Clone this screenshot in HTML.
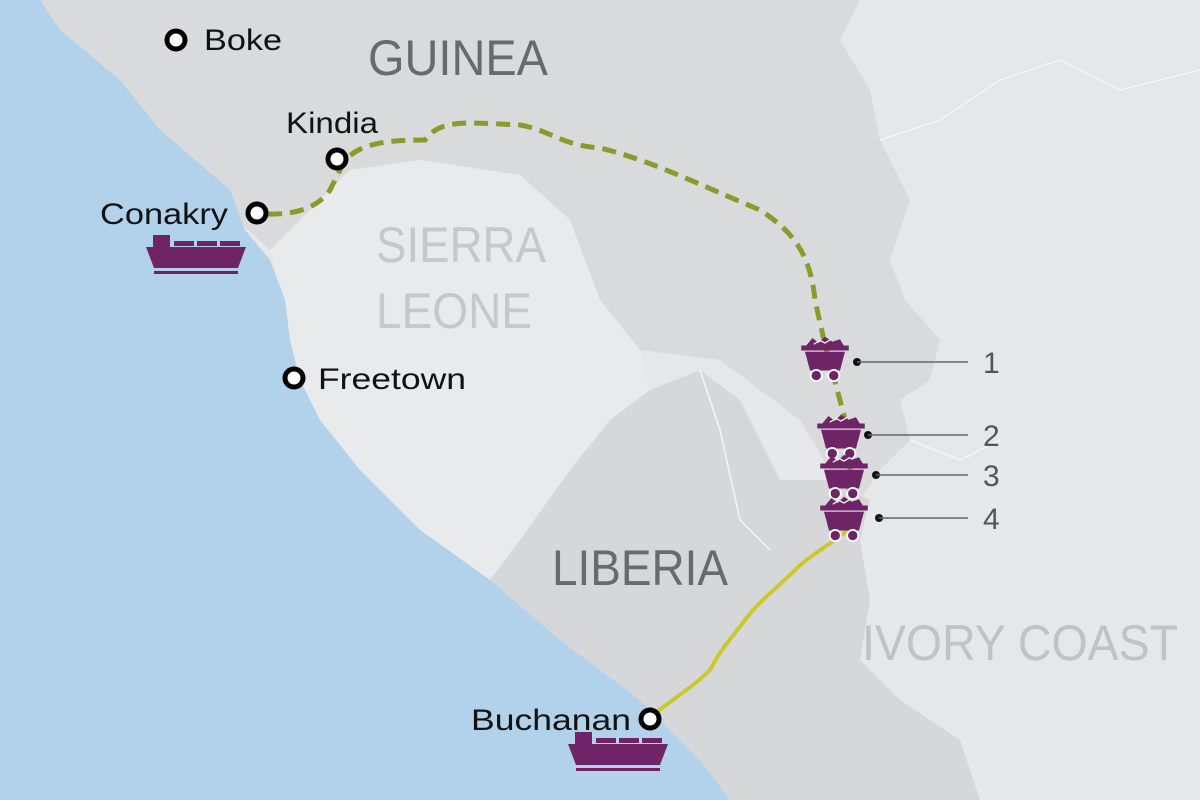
<!DOCTYPE html>
<html><head><style>body{margin:0}svg{display:block}</style></head><body>
<svg width="1200" height="800" viewBox="0 0 1200 800" xmlns="http://www.w3.org/2000/svg" font-family="Liberation Sans, sans-serif">
<rect width="1200" height="800" fill="#e5e7e9"/>
<path d="M0,0 L860,0 L840,40 L870,90 L880,140 L910,200 L890,260 L905,300 L940,340 L930,380 L900,400 L910,440 L880,470 L860,500 L830,470 L800,420 L760,390 L720,360 L640,350 L600,300 L570,220 L520,175 L420,160 L350,170 L270,250 Z" fill="#d9dadb"/>
<path d="M270,250 L350,170 L420,160 L520,175 L570,220 L600,300 L640,350 L650,390 L610,420 L570,470 L520,540 L490,580 L420,530 L360,470 L320,420 L300,380 L290,340 L285,300 Z" fill="#e9eaeb"/>
<path d="M490,580 L520,540 L570,470 L610,420 L650,390 L700,370 L740,400 L760,440 L780,480 L830,480 L870,500 L860,540 L870,600 L860,660 L900,700 L960,740 L980,800 L730,800 L700,760 L640,700 L560,640 Z" fill="#d6d7d8"/>
<path d="M0,0 L40,0 L60,30 L120,80 L160,130 L230,190 L245,230 L270,260 L285,300 L290,340 L300,380 L320,420 L360,470 L420,530 L490,580 L560,640 L640,700 L700,760 L730,800 L0,800 Z" fill="#b1d2ea"/>
<g fill="none" stroke="#f4f5f6" stroke-width="1.5">
<path d="M880,140 L940,120 L1000,80 L1060,60 L1120,90 L1200,70"/>
<path d="M910,440 L960,460 L1000,440"/>
<path d="M700,370 L720,430 L740,520 L770,550"/>
</g>
<path d="M268,214 C300,215 320,205 330,190 L345,160 C360,145 380,140 425,140 C440,120 460,122 520,125 C550,130 560,145 600,148 C650,160 700,185 760,210 C790,230 810,250 815,300 L825,345 L848,430 L850,470 L848,510" fill="none" stroke="#8c9a2c" stroke-width="5" stroke-dasharray="14,8"/>
<path d="M848,530 C830,545 810,555 795,570 C775,590 760,600 745,620 C730,640 720,650 710,670 C690,690 670,700 650,718" fill="none" stroke="#c9c92e" stroke-width="4"/>
<g fill="#fff" stroke="#000" stroke-width="5">
<circle cx="176" cy="40" r="9"/><circle cx="337" cy="159" r="9"/><circle cx="257" cy="213" r="9"/><circle cx="294" cy="378" r="9"/><circle cx="650" cy="719" r="9"/>
</g>
<g font-size="30" fill="#111">
<text x="204" y="50" textLength="78" lengthAdjust="spacingAndGlyphs">Boke</text>
<text x="286" y="133" textLength="92" lengthAdjust="spacingAndGlyphs">Kindia</text>
<text x="100" y="224" textLength="128" lengthAdjust="spacingAndGlyphs">Conakry</text>
<text x="318" y="389" textLength="148" lengthAdjust="spacingAndGlyphs">Freetown</text>
<text x="471" y="730" textLength="160" lengthAdjust="spacingAndGlyphs">Buchanan</text>
</g>
<g font-size="50">
<text x="368" y="75" fill="#6a6a6a" textLength="180" lengthAdjust="spacingAndGlyphs">GUINEA</text>
<text x="376" y="262" fill="#c6c7c9" textLength="170" lengthAdjust="spacingAndGlyphs">SIERRA</text>
<text x="376" y="328" fill="#c6c7c9" textLength="156" lengthAdjust="spacingAndGlyphs">LEONE</text>
<text x="552" y="585" fill="#6a6a6a" textLength="176" lengthAdjust="spacingAndGlyphs">LIBERIA</text>
<text x="862" y="660" fill="#c0c2c4" textLength="316" lengthAdjust="spacingAndGlyphs">IVORY COAST</text>
</g>
<g fill="#6e2466">
<path d="M146,247 L246,247 L238,268 L154,268 Z"/><rect x="153" y="235" width="17" height="12"/><rect x="174" y="241" width="20" height="5"/><rect x="197" y="241" width="20" height="5"/><rect x="220" y="241" width="20" height="5"/><rect x="154" y="271" width="84" height="3"/>
<g transform="translate(422,497)"><path d="M146,247 L246,247 L238,268 L154,268 Z"/><rect x="153" y="235" width="17" height="12"/><rect x="174" y="241" width="20" height="5"/><rect x="197" y="241" width="20" height="5"/><rect x="220" y="241" width="20" height="5"/><rect x="154" y="271" width="84" height="3"/></g>
</g>
<defs><g id="cart" transform="scale(1.25)"><path d="M-15,-10 L-10,-16 L-5,-12 L0,-17 L6,-13 L12,-15 L15,-10 Z" fill="#6e2466"/><rect x="-19" y="-10" width="38" height="4" fill="#6e2466"/><path d="M-16,-5 L16,-5 L12,10 L-12,10 Z" fill="#6e2466"/><circle cx="-7" cy="14" r="4.5" fill="#6e2466" stroke="#fff" stroke-width="1.5"/><circle cx="7" cy="14" r="4.5" fill="#6e2466" stroke="#fff" stroke-width="1.5"/><path d="M-9,-11 L-4,-14 L0,-12 L5,-15" stroke="#fff" stroke-width="1" fill="none"/></g></defs>
<use href="#cart" x="825" y="358"/><use href="#cart" x="841" y="436"/><use href="#cart" x="844" y="476"/><use href="#cart" x="844" y="518"/>
<g fill="#111"><circle cx="857" cy="362" r="4"/><circle cx="868" cy="435" r="4"/><circle cx="876" cy="475" r="4"/><circle cx="879" cy="518" r="4"/></g>
<g stroke="#666" stroke-width="1.5"><line x1="857" y1="362" x2="968" y2="362"/><line x1="868" y1="435" x2="968" y2="435"/><line x1="876" y1="475" x2="968" y2="475"/><line x1="879" y1="518" x2="968" y2="518"/></g>
<g font-size="30" fill="#555"><text x="983" y="373">1</text><text x="983" y="446">2</text><text x="983" y="486">3</text><text x="983" y="529">4</text></g>
</svg>
</body></html>
